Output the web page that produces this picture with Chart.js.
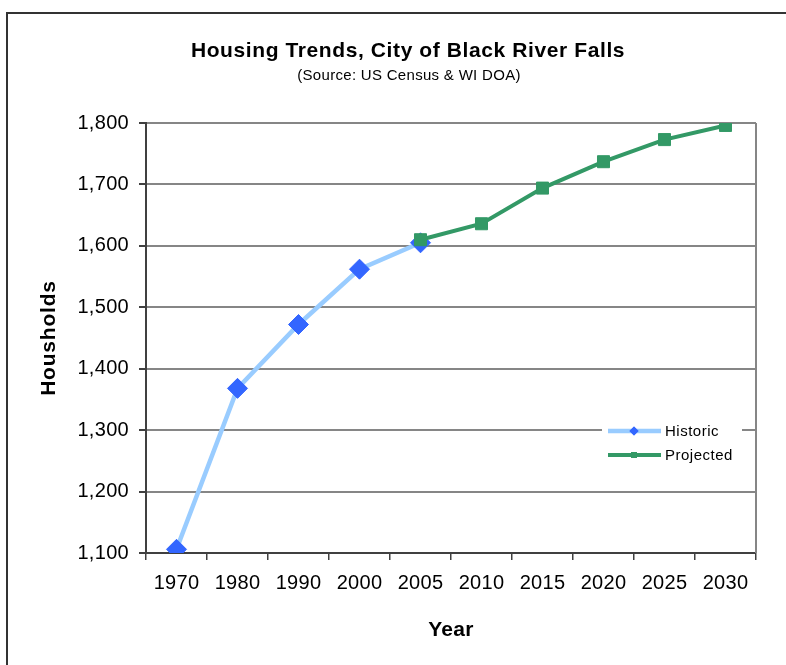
<!DOCTYPE html>
<html>
<head>
<meta charset="utf-8">
<script src="https://cdn.jsdelivr.net/npm/chart.js@4/dist/chart.umd.min.js"></script>
<style>
  html, body { margin: 0; padding: 0; background: #fff; }
  #wrap { width: 786px; height: 665px; position: relative; }
</style>
</head>
<body>
<div id="wrap"><canvas id="c" width="786" height="665"></canvas></div>
<script>
// Census years and projection years (category axis)
const years = ['1970', '1980', '1990', '2000', '2005', '2010', '2015', '2020', '2025', '2030'];
// Household counts
const historic  = [1106, 1368, 1472, 1562, 1605, null, null, null, null, null];
const projected = [null, null, null, null, 1610, 1636, 1694, 1737, 1773, 1796];
// Value-axis tick positions
const householdTicks = [1100, 1200, 1300, 1400, 1500, 1600, 1700, 1800];
const seriesNames = ['Historic', 'Projected'];

const chartTitle = 'Housing Trends, City of Black River Falls';
const chartSubtitle = '(Source: US Census & WI DOA)';
const xTitle = 'Year';
const yTitle = 'Housholds';

const FONT = "'Liberation Sans', Arial, sans-serif";
const AXIS_DARK = '#404040';
const GRID_GRAY = '#868686';

function spacedText(ctx, text, x, y, font, spacing, align, baseline) {
  ctx.save();
  ctx.font = font;
  ctx.letterSpacing = spacing + 'px';
  ctx.fillStyle = '#000';
  ctx.textAlign = align;
  ctx.textBaseline = baseline;
  ctx.fillText(text, x, y);
  ctx.restore();
}

// Page frame, background and tick-label spacing
const framePlugin = {
  id: 'frame',
  beforeDraw(chart) {
    const ctx = chart.ctx;
    ctx.save();
    ctx.fillStyle = '#fff';
    ctx.fillRect(0, 0, chart.width, chart.height);
    ctx.strokeStyle = '#333';
    ctx.lineWidth = 2;
    ctx.beginPath();
    ctx.moveTo(7, chart.height);
    ctx.lineTo(7, 13);
    ctx.lineTo(chart.width, 13);
    ctx.stroke();
    ctx.restore();
    ctx.letterSpacing = '0.3px';
  }
};

// Titles, plot border and legend
const decorPlugin = {
  id: 'decor',
  afterDraw(chart) {
    const ctx = chart.ctx;
    const a = chart.chartArea;
    ctx.letterSpacing = '0px';

    // right edge of the plot area
    ctx.save();
    ctx.strokeStyle = GRID_GRAY;
    ctx.lineWidth = 2;
    ctx.beginPath();
    ctx.moveTo(a.right, a.top);
    ctx.lineTo(a.right, a.bottom);
    ctx.stroke();
    ctx.restore();

    spacedText(ctx, chartTitle, 408, 57, "bold 21px " + FONT, 0.6, 'center', 'alphabetic');
    spacedText(ctx, chartSubtitle, 409, 80, "15px " + FONT, 0.3, 'center', 'alphabetic');
    spacedText(ctx, xTitle, (a.left + a.right) / 2, 636, "bold 21px " + FONT, 0.3, 'center', 'alphabetic');

    ctx.save();
    ctx.translate(55, (a.top + a.bottom) / 2);
    ctx.rotate(-Math.PI / 2);
    spacedText(ctx, yTitle, 0, 0, "bold 21px " + FONT, 0.8, 'center', 'alphabetic');
    ctx.restore();

    // legend
    ctx.save();
    ctx.fillStyle = '#fff';
    ctx.fillRect(602, 418, 140, 50);
    const rows = [431, 455];
    chart.data.datasets.forEach((ds, i) => {
      const y = rows[i];
      ctx.strokeStyle = ds.borderColor;
      ctx.lineWidth = ds.borderWidth;
      ctx.beginPath();
      ctx.moveTo(608, y);
      ctx.lineTo(661, y);
      ctx.stroke();
      ctx.fillStyle = ds.pointBackgroundColor;
      Chart.helpers.drawPoint(ctx, {
        pointStyle: ds.pointStyle, radius: i === 0 ? 4.5 : 4.2, borderWidth: 0, rotation: 0
      }, 634, y);
      ctx.fill();
      spacedText(ctx, ds.label, 665, y + 5, "15px " + FONT, 0.5, 'left', 'alphabetic');
    });
    ctx.restore();
  }
};

new Chart(document.getElementById('c'), {
  type: 'line',
  data: {
    labels: years,
    datasets: [
      {
        label: seriesNames[0],
        data: historic,
        borderColor: '#99CCFF',
        borderWidth: 4.5,
        pointStyle: 'rectRot',
        pointRadius: 10,
        pointHoverRadius: 10,
        pointBackgroundColor: '#3366FF',
        pointBorderColor: '#3366FF',
        pointBorderWidth: 1,
        tension: 0,
        spanGaps: false,
        order: 1
      },
      {
        label: seriesNames[1],
        data: projected,
        borderColor: '#339966',
        borderWidth: 4,
        pointStyle: 'rect',
        pointRadius: 8.5,
        pointHoverRadius: 8.5,
        pointBackgroundColor: '#339966',
        pointBorderColor: '#339966',
        pointBorderWidth: 1,
        tension: 0,
        spanGaps: false,
        order: 0
      }
    ]
  },
  options: {
    responsive: false,
    animation: false,
    devicePixelRatio: 1,
    layout: { padding: { top: 123, right: 30, left: 0, bottom: 0 } },
    plugins: {
      legend: { display: false },
      title: { display: false },
      tooltip: { enabled: false }
    },
    scales: {
      x: {
        type: 'category',
        offset: true,
        grid: {
          offset: true,
          drawOnChartArea: false,
          drawTicks: true,
          tickLength: 7,
          tickColor: AXIS_DARK,
          lineWidth: 1.5
        },
        border: { color: AXIS_DARK, width: 2 },
        ticks: {
          autoSkip: false,
          maxRotation: 0,
          padding: 11,
          color: '#000',
          font: { family: FONT, size: 20 }
        },
        afterFit(scale) { scale.height = 112; }
      },
      y: {
        min: 1100,
        max: 1800,
        afterBuildTicks(scale) {
          scale.ticks = householdTicks.map(v => ({ value: v }));
        },
        grid: {
          color: GRID_GRAY,
          lineWidth: 2,
          drawTicks: true,
          tickLength: 7,
          tickColor: AXIS_DARK
        },
        border: { color: AXIS_DARK, width: 2 },
        ticks: {
          padding: 10,
          color: '#000',
          font: { family: FONT, size: 20 },
          callback: v => Number(v).toLocaleString('en-US')
        },
        afterFit(scale) { scale.width = 146; }
      }
    }
  },
  plugins: [framePlugin, decorPlugin]
});
</script>
</body>
</html>
